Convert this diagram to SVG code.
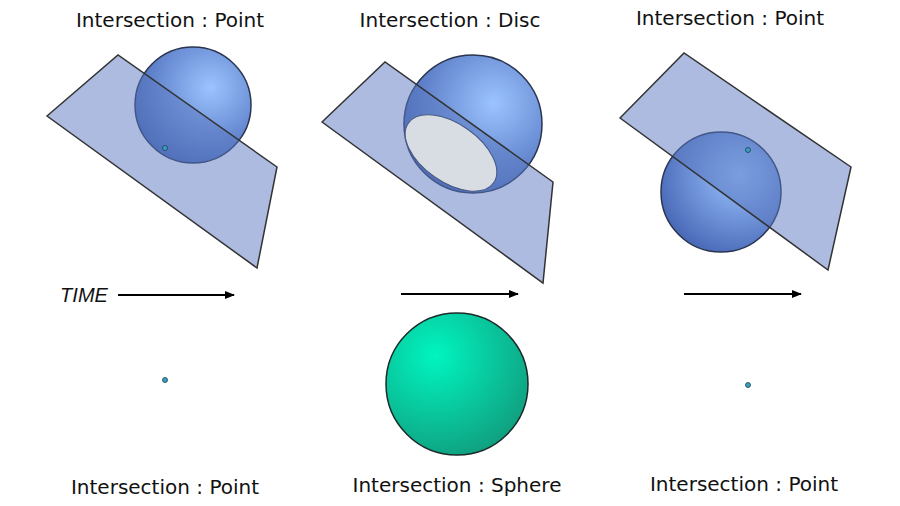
<svg xmlns="http://www.w3.org/2000/svg" width="900" height="506" viewBox="0 0 900 506">
<style>
.t{font-family:"DejaVu Sans",sans-serif;font-size:20px;fill:#111;text-anchor:middle}
.pl{fill:#5a78c0;fill-opacity:0.5;stroke:#333;stroke-width:1.5}
.sp{fill:url(#bg);stroke:#2a3550;stroke-width:1.5}
.dot{fill:#3aa0c0;stroke:#1a4050;stroke-width:0.8}
.ar{stroke:#000;stroke-width:2;fill:none;marker-end:url(#ah)}
</style>
<defs>
<radialGradient id="bg" cx="0.65" cy="0.35" r="0.7"><stop offset="0" stop-color="#9cc4ff"/><stop offset="1" stop-color="#4a6ab8"/></radialGradient>
<radialGradient id="gg" cx="0.35" cy="0.3" r="0.75"><stop offset="0" stop-color="#00f5c0"/><stop offset="1" stop-color="#10a080"/></radialGradient>
<marker id="ah" markerWidth="10" markerHeight="8" refX="9" refY="4" orient="auto" markerUnits="userSpaceOnUse"><path d="M0,0L10,4L0,8z" fill="#000"/></marker>
</defs>
<g id="panel1">
<circle class="sp" cx="193" cy="105" r="58"/>
<polygon class="pl" points="47,116 118,55 277,167 257,268"/>
<circle class="dot" cx="165" cy="148" r="2.5"/>
<text class="t" x="170" y="27">Intersection : Point</text>
</g>
<g id="panel2">
<circle class="sp" cx="473" cy="124" r="69"/>
<polygon class="pl" points="322,122 385,62 553,182 543,283"/>
<ellipse cx="451" cy="153" rx="52" ry="29" transform="rotate(35 451 153)" fill="#d8dde4" stroke="#4a5a80" stroke-width="1"/>
<text class="t" x="450" y="27">Intersection : Disc</text>
</g>
<g id="panel3">
<circle class="sp" cx="721" cy="192" r="60"/>
<polygon class="pl" points="620,118 684,53 851,167 828,270"/>
<circle class="dot" cx="748" cy="150" r="2.5"/>
<text class="t" x="730" y="25">Intersection : Point</text>
</g>
<g id="bottom">
<text x="84" y="302" font-family="Liberation Sans,sans-serif" font-style="italic" font-size="20" fill="#111" text-anchor="middle">TIME</text>
<circle class="dot" cx="165" cy="380" r="2.5"/>
<circle cx="457" cy="384" r="71" fill="url(#gg)" stroke="#1a2a28" stroke-width="1.5"/>
<circle class="dot" cx="748" cy="385" r="2.5"/>
<text class="t" x="165" y="494">Intersection : Point</text>
<text class="t" x="457" y="492">Intersection : Sphere</text>
<text class="t" x="744" y="491">Intersection : Point</text>
</g>
<g id="connectors">
<line class="ar" x1="118" y1="295" x2="234" y2="295"/>
<line class="ar" x1="401" y1="294" x2="518" y2="294"/>
<line class="ar" x1="684" y1="294" x2="801" y2="294"/>
</g>
</svg>
